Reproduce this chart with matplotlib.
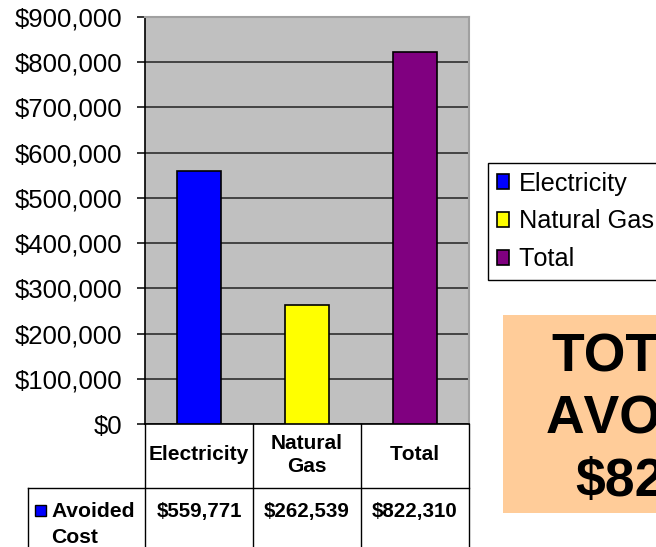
import matplotlib
matplotlib.use("Agg")
import matplotlib.pyplot as plt
import matplotlib.transforms as mtransforms
from matplotlib.lines import Line2D
from matplotlib.patches import Rectangle
from matplotlib.ticker import FuncFormatter, MultipleLocator

# data
categories = ["Electricity", "Natural Gas", "Total"]
header_labels = ["Electricity", "Natural\nGas", "Total"]
avoided_cost = [559771, 262539, 822310]
bar_colors = ["#0000FF", "#FFFF00", "#800080"]
row_label = ["Avoided", "Cost"]
total_lines = ["TOTAL", "AVOIDED", "$822,310"]

W, H = 656, 547
plt.rcParams['font.family'] = ['Liberation Sans', 'DejaVu Sans']
plt.rcParams['text.kerning_factor'] = 6

fig = plt.figure(figsize=(W / 100, H / 100), dpi=100)


def fx(x):
    return x / W


def fy(y):
    return 1 - y / H


# plot area in pixels: x 145..469, y 17..424
ax = fig.add_axes([fx(145), fy(424), fx(469 - 145), (424 - 17) / H])
ax.set_facecolor("#C0C0C0")

xs = list(range(len(categories)))
bars = ax.bar(xs, avoided_cost, width=0.41, color=bar_colors,
              edgecolor="black", linewidth=1.2, zorder=3)

ax.set_xlim(-0.5, len(categories) - 0.5)
ax.set_ylim(0, 900000)
ax.yaxis.set_major_locator(MultipleLocator(100000))
ax.yaxis.set_major_formatter(FuncFormatter(lambda v, p: f"${v:,.0f}"))
ax.yaxis.grid(True, color="#222222", linewidth=1.1, zorder=1)
ax.set_axisbelow(True)
ax.set_xticks([])
ax.tick_params(axis="y", direction="out", length=6, width=1.1, pad=10.5,
               labelsize=18.5, color="black")

for side in ("top", "right"):
    ax.spines[side].set_color("#A0A0A0")
    ax.spines[side].set_linewidth(1.5)
for side in ("left", "bottom"):
    ax.spines[side].set_color("black")
    ax.spines[side].set_linewidth(1.2)

# data table under the chart
trans = mtransforms.blended_transform_factory(ax.transData, fig.transFigure)
lw = 1.0
edges = [-0.5] + [i + 0.5 for i in xs]
for e in edges:
    fig.add_artist(Line2D([e, e], [fy(424), fy(H + 5)], transform=trans,
                          color="black", linewidth=lw))
fig.add_artist(Line2D([fx(28), fx(469)], [fy(488), fy(488)],
                      transform=fig.transFigure, color="black", linewidth=lw))
fig.add_artist(Line2D([fx(28), fx(28)], [fy(488), fy(H + 5)],
                      transform=fig.transFigure, color="black", linewidth=lw))

for i, lab in zip(xs, header_labels):
    fig.text(i, fy(455), lab, transform=trans, ha="center", va="center",
             fontsize=15, fontweight="bold", linespacing=1.3)

for i, v in zip(xs, avoided_cost):
    fig.text(i, fy(517), f"${v:,.0f}", transform=trans, ha="center",
             va="baseline", fontsize=14.8, fontweight="bold")

fig.add_artist(Rectangle((fx(35), fy(516)), fx(11), (516 - 505) / H,
                         transform=fig.transFigure, facecolor=bar_colors[0],
                         edgecolor="black", linewidth=1))
for base, word in zip([517, 543], row_label):
    fig.text(fx(51), fy(base), word, ha="left", va="baseline",
             fontsize=15.2, fontweight="bold")

# legend
leg = fig.legend(bars, categories, loc="upper left",
                 bbox_to_anchor=(fx(488), fy(279), fx(720 - 488), (279 - 163) / H),
                 mode="expand", fontsize=18.2, frameon=True, fancybox=False,
                 shadow=False, edgecolor="black", framealpha=1,
                 handlelength=0.5, handleheight=0.5, handletextpad=0.38,
                 labelspacing=0.55, borderpad=0.34, borderaxespad=0)
leg.get_frame().set_linewidth(1.0)

# total box
fig.add_artist(Rectangle((fx(503), fy(513)), fx(300), (513 - 315) / H,
                         transform=fig.transFigure, facecolor="#FFCC99",
                         edgecolor="none"))
big = dict(fontsize=38.5, fontweight="bold", ha="left", va="baseline")
for x0, base, line in zip([551, 546, 575], [372, 433, 496], total_lines):
    fig.text(fx(x0), fy(base), line, **big)

fig.savefig("out.png", dpi=100)
